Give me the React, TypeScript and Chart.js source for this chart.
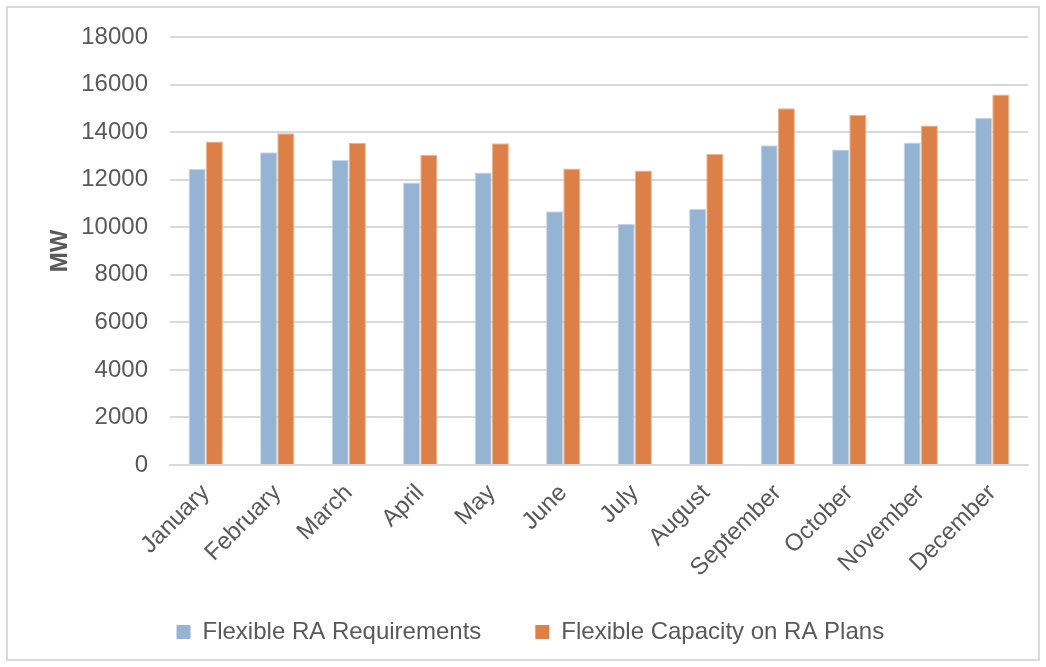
import React, { useEffect, useRef } from "react";
import { Chart, registerables } from "chart.js";

Chart.register(...registerables);

const months = [
  "January", "February", "March", "April", "May", "June",
  "July", "August", "September", "October", "November", "December",
];
const flexRequirements = [12450, 13150, 12830, 11880, 12300, 10670, 10150, 10780, 13450, 13270, 13560, 14600];
const flexCapacity = [13600, 13950, 13540, 13050, 13530, 12470, 12390, 13080, 15000, 14720, 14280, 15580];
const seriesNames = ["Flexible RA Requirements", "Flexible Capacity on RA Plans"];
const yTicksMax = 18000;
const yTickStep = 2000;

const FONT = "'Liberation Sans', Arial, sans-serif";
const TEXT = "#595959";

export default function App() {
  const ref = useRef<HTMLCanvasElement | null>(null);
  useEffect(() => {
    if (!ref.current) return;
    const chart = new Chart(ref.current, {
      type: "bar",
      data: {
        labels: months,
        datasets: [
          {
            label: seriesNames[0],
            data: flexRequirements,
            backgroundColor: "#95B3D3",
            borderColor: "#C9D8E8",
            borderWidth: 1,
            barPercentage: 1,
            categoryPercentage: 0.48,
          },
          {
            label: seriesNames[1],
            data: flexCapacity,
            backgroundColor: "#DD8047",
            borderColor: "#EFB48E",
            borderWidth: 1,
            barPercentage: 1,
            categoryPercentage: 0.48,
          },
        ],
      },
      options: {
        animation: false,
        responsive: false,
        maintainAspectRatio: false,
        layout: { padding: { left: 38, right: 10, top: 29, bottom: 5 } },
        plugins: {
          tooltip: { enabled: false },
          legend: {
            position: "bottom",
            labels: {
              font: { family: FONT, size: 24 },
              color: TEXT,
              boxWidth: 14,
              boxHeight: 14,
              padding: 14,
              generateLabels: (c: any) =>
                c.data.datasets.map((d: any, i: number) => ({
                  text: i === 0 ? d.label + "      " : d.label + "  ",
                  fillStyle: d.backgroundColor,
                  strokeStyle: d.backgroundColor,
                  lineWidth: 0,
                  datasetIndex: i,
                  fontColor: TEXT,
                })),
            },
          },
        },
        scales: {
          x: {
            grid: { display: false },
            border: { display: true, color: "#D9D9D9", width: 2 },
            ticks: {
              font: { family: FONT, size: 24 },
              color: TEXT,
              minRotation: 45,
              maxRotation: 45,
              padding: 6,
            },
            afterFit: (s: any) => {
              s.height = 141;
            },
          },
          y: {
            min: 0,
            max: yTicksMax,
            border: { display: false },
            grid: { color: "#D9D9D9", lineWidth: 2, drawTicks: false },
            ticks: {
              stepSize: yTickStep,
              font: { family: FONT, size: 24 },
              color: TEXT,
              padding: 22,
              callback: (v: any) => String(v),
            },
            title: {
              display: true,
              text: "MW",
              font: { family: FONT, size: 24, weight: "bold" },
              color: TEXT,
              padding: { top: 0, bottom: 0 },
            },
            afterFit: (s: any) => {
              s.width = 124;
              s.paddingTop = 0;
              s.paddingBottom = 0;
            },
          },
        },
      },
    });
    return () => chart.destroy();
  }, []);

  return (
    <div
      style={{
        position: "absolute",
        left: 6,
        top: 6,
        width: 1034,
        height: 655,
        border: "2px solid #D9D9D9",
        boxSizing: "border-box",
        background: "#fff",
      }}
    >
      <canvas ref={ref} width={1030} height={651} style={{ display: "block" }} />
    </div>
  );
}
